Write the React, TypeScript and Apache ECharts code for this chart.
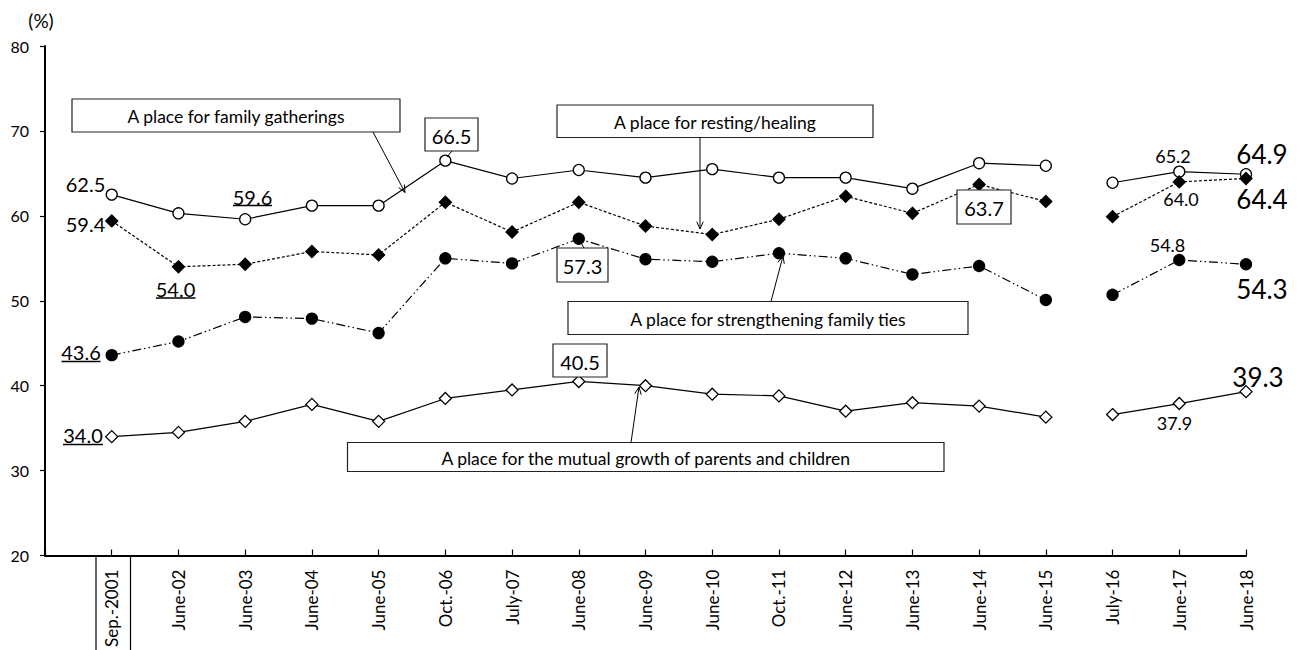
import React, { useEffect, useRef } from "react";
import * as echarts from "echarts";

const categories = [
  "Sep.-2001", "June-02", "June-03", "June-04", "June-05", "Oct.-06", "July-07", "June-08", "June-09",
  "June-10", "Oct.-11", "June-12", "June-13", "June-14", "June-15", "July-16", "June-17", "June-18",
];
const familyGatherings = [62.5, 60.3, 59.6, 61.2, 61.2, 66.5, 64.4, 65.4, 64.5, 65.5, 64.5, 64.5, 63.2, 66.2, 65.9, 63.9, 65.2, 64.9];
const restingHealing = [59.4, 54.0, 54.3, 55.8, 55.4, 61.6, 58.1, 61.6, 58.8, 57.8, 59.6, 62.3, 60.3, 63.7, 61.7, 59.9, 64.0, 64.4];
const strengtheningTies = [43.6, 45.2, 48.1, 47.9, 46.2, 55.0, 54.4, 57.3, 54.9, 54.6, 55.6, 55.0, 53.1, 54.1, 50.1, 50.7, 54.8, 54.3];
const mutualGrowth = [34.0, 34.5, 35.8, 37.8, 35.8, 38.5, 39.5, 40.5, 40.0, 39.0, 38.8, 37.0, 38.0, 37.6, 36.3, 36.6, 37.9, 39.3];
const yTicks = { min: 20, max: 80, interval: 10 };
const breakAfter = 15; // the line is broken between June-15 and July-16

const FONT = "Lato";

function seg(vals: number[], part: 0 | 1) {
  const out: (number | null)[] = [null];
  vals.forEach((v, i) => out.push((part === 0 ? i < breakAfter : i >= breakAfter) ? v : null));
  return out;
}

function arrow(x1: number, y1: number, x2: number, y2: number, head = 8) {
  const ang = Math.atan2(y2 - y1, x2 - x1);
  const a1 = ang + Math.PI - 0.42;
  const a2 = ang + Math.PI + 0.42;
  return [
    { type: "line", shape: { x1, y1, x2, y2 }, style: { stroke: "#000", lineWidth: 1 }, z: 100 },
    {
      type: "polyline",
      shape: { points: [[x2 + head * Math.cos(a1), y2 + head * Math.sin(a1)], [x2, y2], [x2 + head * Math.cos(a2), y2 + head * Math.sin(a2)]] },
      style: { stroke: "#000", fill: "none", lineWidth: 1 },
      z: 100,
    },
  ];
}

function txt(text: string, x: number, y: number, size: number) {
  return {
    type: "text",
    x,
    y,
    z: 101,
    style: {
      text, x: 0, y: 0, fill: "#000", fontSize: size, fontFamily: FONT,
      align: "center", verticalAlign: "middle", textAlign: "center", textVerticalAlign: "middle",
    },
  };
}

function box(x1: number, y1: number, x2: number, y2: number, text: string, size: number) {
  return [
    { type: "rect", shape: { x: x1, y: y1, width: x2 - x1, height: y2 - y1 }, style: { fill: "#fff", stroke: "#222", lineWidth: 1.2 }, z: 99 },
    txt(text, (x1 + x2) / 2, (y1 + y2) / 2 + 1, size),
  ];
}

function uline(x1: number, x2: number, y: number) {
  return { type: "line", shape: { x1, y1: y, x2, y2: y }, style: { stroke: "#000", lineWidth: 1.5 }, z: 100 };
}

function line(x1: number, y1: number, x2: number, y2: number, w = 1) {
  return { type: "line", shape: { x1, y1, x2, y2 }, style: { stroke: "#000", lineWidth: w }, z: 100 };
}

export default function App() {
  const ref = useRef<HTMLDivElement>(null);
  useEffect(() => {
    if (!ref.current) return;
    document.documentElement.style.overflow = "hidden";
    document.body.style.margin = "0";
    document.body.style.overflow = "hidden";
    const chart = echarts.init(ref.current, undefined, { renderer: "svg" });

    const mk = (name: string, vals: number[], symbol: string, size: number, filled: boolean, lt: any) =>
      [0, 1].map((p) => ({
        name,
        type: "line",
        data: seg(vals, p as 0 | 1),
        symbol,
        symbolSize: size,
        showAllSymbol: true,
        connectNulls: false,
        lineStyle: { color: "#000", width: 1.2, type: lt },
        itemStyle: { color: filled ? "#000" : "#fff", borderColor: "#000", borderWidth: 1.3 },
        emphasis: { disabled: true },
        z: 3,
      }));

    const graphic: any[] = [
      txt("(%)", 41, 20, 19),
      ...box(72, 99, 400, 132, "A place for family gatherings", 17.5),
      ...arrow(373, 132, 405, 192.5),
      ...box(557, 105, 873, 137.5, "A place for resting/healing", 17.5),
      ...arrow(700, 137.5, 700, 229),
      ...box(568, 301.5, 968, 334.5, "A place for strengthening family ties", 17.5),
      ...arrow(771, 301.5, 783, 256),
      ...box(347.5, 442.5, 944, 471.5, "A place for the mutual growth of parents and children", 17.5),
      ...arrow(631, 442.5, 639, 387),
      ...box(425, 118, 478, 151, "66.5", 20),
      line(452, 151, 447, 157),
      ...box(557, 248, 608, 282, "57.3", 20),
      line(584, 248, 580.5, 242),
      ...box(553, 344, 607, 377, "40.5", 20),
      ...box(957, 190, 1011, 224, "63.7", 20),
      txt("62.5", 85.5, 183.5, 20),
      txt("59.4", 85.5, 224, 20),
      txt("59.6", 252.5, 196.5, 20),
      uline(233, 272, 205.5),
      txt("54.0", 175.5, 288.5, 20),
      uline(156, 195.5, 298),
      txt("43.6", 81, 352, 20),
      uline(61.5, 100.5, 361.5),
      txt("34.0", 83, 435, 20),
      uline(63, 103, 444.5),
      txt("65.2", 1173, 156, 18),
      txt("64.0", 1181, 199, 18),
      txt("54.8", 1167.5, 245, 18),
      txt("37.9", 1174.5, 423, 18),
      txt("64.9", 1262, 154, 26),
      txt("64.4", 1262, 199, 26),
      txt("54.3", 1262, 288.5, 26),
      txt("39.3", 1258, 376.5, 26),
      line(96, 557, 96, 650, 1.2),
      line(130.5, 557, 130.5, 650, 1.2),
    ];

    chart.setOption({
      animation: false,
      backgroundColor: "#fff",
      textStyle: { fontFamily: FONT },
      grid: { left: 45, right: 57, top: 46, bottom: 93, containLabel: false },
      xAxis: {
        type: "category",
        boundaryGap: false,
        data: ["", ...categories],
        axisLine: { lineStyle: { color: "#000", width: 2 } },
        axisTick: { inside: true, length: 6, lineStyle: { color: "#000", width: 1.2 }, alignWithLabel: true },
        axisLabel: { rotate: 90, interval: 0, color: "#000", fontSize: 17, fontFamily: FONT, margin: 14 },
        splitLine: { show: false },
      },
      yAxis: {
        type: "value",
        min: yTicks.min,
        max: yTicks.max,
        interval: yTicks.interval,
        axisLine: { show: true, lineStyle: { color: "#000", width: 2 } },
        axisTick: { show: true, length: 5, lineStyle: { color: "#000", width: 1.2 } },
        axisLabel: { color: "#000", fontSize: 16, fontFamily: FONT, margin: 16 },
        splitLine: { show: false },
      },
      series: [
        ...mk("A place for family gatherings", familyGatherings, "circle", 11, false, "solid"),
        ...mk("A place for resting/healing", restingHealing, "diamond", 12, true, [3, 2]),
        ...mk("A place for strengthening family ties", strengtheningTies, "circle", 11, true, [9, 3, 1.5, 3, 1.5, 3]),
        ...mk("A place for the mutual growth of parents and children", mutualGrowth, "diamond", 12, false, "solid"),
      ],
      graphic,
    });
    return () => chart.dispose();
  }, []);
  return <div ref={ref} style={{ position: "fixed", left: 0, top: 0, width: 1303, height: 650, overflow: "hidden", background: "#fff" }} />;
}
